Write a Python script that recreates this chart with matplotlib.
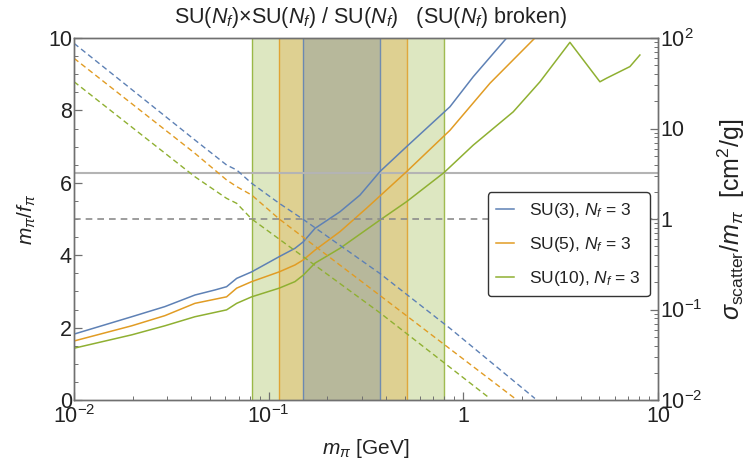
import numpy as np
import matplotlib
matplotlib.use("Agg")
import matplotlib.pyplot as plt
from matplotlib.ticker import FixedLocator, FixedFormatter, MultipleLocator, LogLocator, NullFormatter

plt.rcParams['font.family'] = ['Liberation Sans', 'DejaVu Sans']
plt.rcParams['mathtext.fontset'] = 'custom'
plt.rcParams['mathtext.rm'] = 'Liberation Sans'
plt.rcParams['mathtext.it'] = 'Liberation Sans:italic'
plt.rcParams['mathtext.bf'] = 'Liberation Sans:bold'

# m_pi in GeV
# solid: m_pi / f_pi (left axis)
m_su3 = [0.0100, 0.0198, 0.0293, 0.0418, 0.0530, 0.0608, 0.0685, 0.0818, 0.1133, 0.1365,
         0.1506, 0.1729, 0.2324, 0.2944, 0.3728, 0.5114, 0.8535, 1.124, 1.669]
r_su3 = [1.82, 2.30, 2.58, 2.90, 3.04, 3.13, 3.36, 3.54, 3.96, 4.19,
         4.37, 4.74, 5.20, 5.66, 6.31, 7.00, 8.10, 8.93, 10.0]

m_su5 = [0.0100, 0.0198, 0.0293, 0.0418, 0.0608, 0.0685, 0.0818, 0.1133, 0.1365, 0.1506,
         0.1729, 0.2324, 0.3186, 0.5114, 0.8535, 1.370, 2.332]
r_su5 = [1.63, 2.05, 2.33, 2.67, 2.85, 3.09, 3.27, 3.54, 3.73, 3.87,
         4.14, 4.65, 5.30, 6.31, 7.45, 8.75, 10.0]

m_su10 = [0.0100, 0.0198, 0.0293, 0.0418, 0.0608, 0.0685, 0.0818, 0.1133, 0.1365, 0.1506,
          0.1729, 0.2324, 0.3728, 0.5114, 0.7950, 1.124, 1.804, 2.475, 3.528, 5.030,
          5.445, 7.173, 8.072]
r_su10 = [1.43, 1.80, 2.05, 2.30, 2.49, 2.67, 2.85, 3.09, 3.27, 3.45,
          3.78, 4.19, 4.97, 5.48, 6.28, 7.04, 7.96, 8.79, 9.88, 8.79,
          8.89, 9.21, 9.53]

# dashed: sigma_scatter / m_pi in cm^2/g (right axis)
ms_su3 = [0.0100, 0.0418, 0.0608, 0.0685, 0.0818, 0.1133, 0.1495, 0.3728, 0.8535, 2.332]
s_su3 = [87.3, 7.46, 3.95, 3.48, 2.48, 1.49, 1.00, 0.25, 0.062, 0.0104]

ms_su5 = [0.0100, 0.0418, 0.0608, 0.0685, 0.0818, 0.1133, 0.3728, 1.841]
s_su5 = [59.7, 5.32, 2.70, 2.28, 1.84, 1.00, 0.143, 0.0104]

ms_su10 = [0.0100, 0.0418, 0.0608, 0.0685, 0.0818, 0.3728, 1.370]
s_su10 = [32.9, 2.93, 1.69, 1.49, 1.00, 0.092, 0.0104]

# allowed windows
band_lo = [0.0818, 0.1133, 0.1495]   # SU(10), SU(5), SU(3)
band_hi = [0.7950, 0.5114, 0.3728]

labels = [r'SU(3), $N_f$ = 3', r'SU(5), $N_f$ = 3', r'SU(10), $N_f$ = 3']
c_blue, c_orange, c_green = '#5e81b5', '#e19c24', '#8fb032'
band_cols = [c_green, c_orange, c_blue]

txt = '#222222'
frame = '#707070'

fig = plt.figure(figsize=(7.47, 4.66), dpi=100)
ax = fig.add_axes([74/747, 1-400/466, 584/747, 362/466])
ax2 = ax.twinx()

for lo, hi, c in zip(band_lo, band_hi, band_cols):
    ax.axvspan(lo, hi, color=c, alpha=0.3, lw=0, zorder=0)
    ax.axvline(lo, color=c, alpha=0.85, lw=1.0, zorder=1)
    ax.axvline(hi, color=c, alpha=0.85, lw=1.0, zorder=1)

ax.axhline(2*np.pi, color='#b4b4b4', lw=1.5, zorder=2)
ax2.axhline(1.0, color='#8c8c8c', lw=1.2, ls=(0, (4, 3)), zorder=2)

l1, = ax.plot(m_su3, r_su3, color=c_blue, lw=1.1, zorder=3)
l2, = ax.plot(m_su5, r_su5, color=c_orange, lw=1.1, zorder=3)
l3, = ax.plot(m_su10, r_su10, color=c_green, lw=1.1, zorder=3)

dash = (0, (4, 2.5))
ax2.plot(ms_su3, s_su3, color=c_blue, lw=1.0, ls=dash)
ax2.plot(ms_su5, s_su5, color=c_orange, lw=1.0, ls=dash)
ax2.plot(ms_su10, s_su10, color=c_green, lw=1.0, ls=dash)

ax.set_xscale('log')
ax.set_xlim(0.01, 10)
ax.set_ylim(0, 10)
ax2.set_yscale('log')
ax2.set_ylim(0.01, 100)

ax.xaxis.set_major_locator(FixedLocator([0.01, 0.1, 1, 10]))
ax.xaxis.set_major_formatter(FixedFormatter([r'$10^{-2}$', r'$10^{-1}$', '1', '10']))
ax.xaxis.set_minor_locator(LogLocator(base=10, subs=np.arange(2, 10)))
ax.xaxis.set_minor_formatter(NullFormatter())
ax.yaxis.set_major_locator(MultipleLocator(2))
ax.yaxis.set_minor_locator(MultipleLocator(0.5))

ax2.yaxis.set_major_locator(FixedLocator([0.01, 0.1, 1, 10, 100]))
ax2.yaxis.set_major_formatter(FixedFormatter([r'$10^{-2}$', r'$10^{-1}$', '1', '10', r'$10^{2}$']))
ax2.yaxis.set_minor_locator(LogLocator(base=10, subs=np.arange(2, 10)))
ax2.yaxis.set_minor_formatter(NullFormatter())

for a in (ax, ax2):
    a.tick_params(which='both', direction='in', color=frame, labelcolor=txt, labelsize=15.5)
    a.tick_params(which='major', length=6, width=0.9)
    a.tick_params(which='minor', length=3, width=0.7)
    for s in a.spines.values():
        s.set_color(frame)
        s.set_linewidth(1.0)
ax.tick_params(axis='x', which='both', top=False, pad=4)
ax.tick_params(axis='y', pad=1.5)
ax2.tick_params(axis='y', pad=1.5)

ax.set_xlabel(r'$m_\pi$ [GeV]', fontsize=15, color=txt, labelpad=6)
ax.set_ylabel(r'$m_\pi/f_\pi$', fontsize=15, color=txt, labelpad=7)
ax2.set_ylabel(r'$\sigma_{\mathrm{scatter}}/m_\pi\ \ [\mathrm{cm}^2/\mathrm{g}]$', fontsize=18,
               color=txt, labelpad=9)

fig.text(370/747, 1-18/466, r'SU($N_f$)×SU($N_f$) / SU($N_f$)   (SU($N_f$) broken)',
         ha='center', va='center', fontsize=15.5, color=txt)

leg = ax2.legend([l1, l2, l3], labels, loc='center right', bbox_to_anchor=(0.986, 0.43),
                 fontsize=12.5, frameon=True, fancybox=True, framealpha=1, facecolor='white',
                 edgecolor='#333333', handlelength=1.0, handletextpad=0.9, labelspacing=0.85,
                 borderpad=0.5, borderaxespad=0)
leg.get_frame().set_linewidth(1.0)
for t in leg.get_texts():
    t.set_color(txt)

fig.savefig('out.png', dpi=100)
